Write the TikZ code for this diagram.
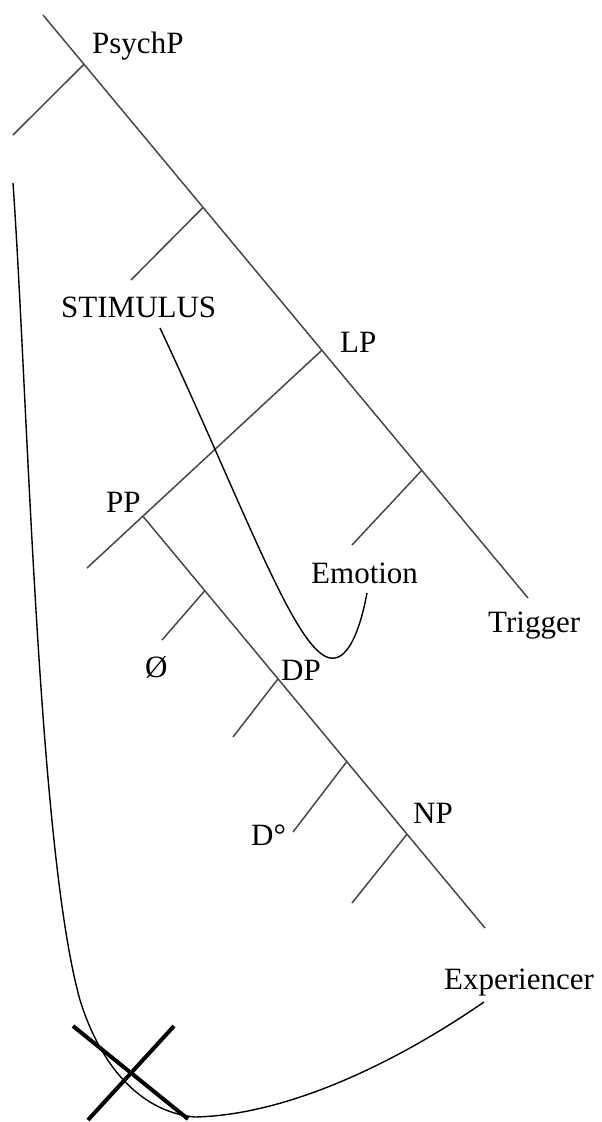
\documentclass[tikz,border=0pt]{standalone}
\usepackage{fontspec}
\setmainfont{Liberation Serif}
\usetikzlibrary{calc}
\tikzset{
  lbl/.style={anchor=base west,inner sep=0pt,font=\fontsize{31}{37}\selectfont},
  branch/.style={draw=black!72,line width=1.5pt},
  curveline/.style={draw=black,line width=1.4pt},
  cross/.style={draw=black,line width=4pt}
}
\begin{document}
\begin{tikzpicture}[x=1pt,y=-1pt]
\useasboundingbox (0,0) rectangle (602,1122);
% main spine
\coordinate (top) at (43,15);
\coordinate (trg) at (528,598);
\coordinate (jPsych) at ($(top)!0.0845!(trg)$);
\coordinate (jStim) at ($(top)!0.33!(trg)$);
\coordinate (jLP) at ($(top)!0.575!(trg)$);
\coordinate (jEmo) at ($(top)!0.781!(trg)$);
\coordinate (psychL) at (13,135);
\coordinate (stimE) at (131,280);
\coordinate (ppL) at (87,568);
\coordinate (jPP) at ($(jLP)!0.762!(ppL)$);
\coordinate (emoE) at (352,545);
% PP spine
\coordinate (ppEnd) at (485,928);
\coordinate (jO) at ($(jPP)!0.181!(ppEnd)$);
\coordinate (jDP) at ($(jPP)!0.395!(ppEnd)$);
\coordinate (jD) at ($(jPP)!0.596!(ppEnd)$);
\coordinate (jNP) at ($(jPP)!0.772!(ppEnd)$);
\coordinate (oE) at (162,640);
\coordinate (dpE) at (233,737);
\coordinate (dE) at (293,832);
\coordinate (npE) at (352,903);

% labels
\node[lbl] (PsychP) at (92,53) {PsychP};
\node[lbl] (STIM) at (61,317) {STIMULUS};
\node[lbl] (LP) at (340,352) {LP};
\node[lbl] (PP) at (106,512) {PP};
\node[lbl] (Emotion) at (311,583) {Emotion};
\node[lbl] (Trigger) at (488,632) {Trigger};
\node[lbl] (O) at (145,677) {Ø};
\node[lbl] (DP) at (281,680) {DP};
\node[lbl] (Do) at (251,845) {D°};
\node[lbl] (NP) at (413,823) {NP};
\node[lbl] (Exp) at (444,989) {Experiencer};

% tree lines
\draw[branch] (top) -- (trg);
\draw[branch] (jPsych) -- (psychL);
\draw[branch] (jStim) -- (stimE);
\draw[branch] (jLP) -- (ppL);
\draw[branch] (jEmo) -- (emoE);
\draw[branch] (jPP) -- (ppEnd);
\draw[branch] (jO) -- (oE);
\draw[branch] (jDP) -- (dpE);
\draw[branch] (jD) -- (dE);
\draw[branch] (jNP) -- (npE);

% movement curves
\coordinate (stimS) at (160,328);
\coordinate (emoS) at (367,593);
\draw[curveline] (stimS) .. controls (250,520) and (300,665) .. (335,658)
  .. controls (352,655) and (362,620) .. (emoS);
\coordinate (bigS) at (13,183);
\coordinate (expS) at (484,1002);
\draw[curveline] (bigS) .. controls (28,400) and (38,850) .. (80,1000)
  .. controls (100,1065) and (140,1112) .. (195,1117)
  .. controls (290,1115) and (400,1060) .. (expS);

% cross
\coordinate (x1a) at (73,1026);
\coordinate (x1b) at (188,1119);
\coordinate (x2a) at (174,1026);
\coordinate (x2b) at (88,1120);
\draw[cross] (x1a) -- (x1b);
\draw[cross] (x2a) -- (x2b);
\end{tikzpicture}
\end{document}
